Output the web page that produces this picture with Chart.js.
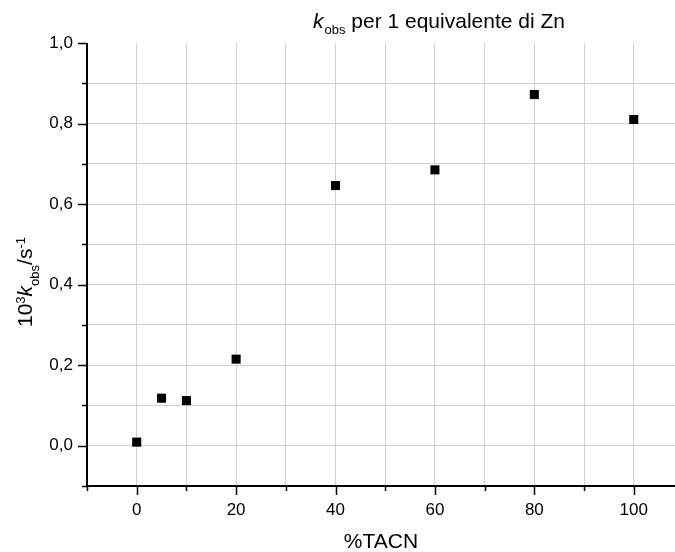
<!DOCTYPE html>
<html>
<head>
<meta charset="utf-8">
<script src="https://cdn.jsdelivr.net/npm/chart.js@4"></script>
<style>
  html, body { margin: 0; padding: 0; background: #fff; }
  #wrap { width: 675px; height: 552px; position: relative; }
</style>
</head>
<body>
<div id="wrap"><canvas id="chart"></canvas></div>
<script>
// data
const tacn = [0, 5, 10, 20, 40, 60, 80, 100];
const kobs = [0.009, 0.118, 0.112, 0.215, 0.646, 0.685, 0.872, 0.81];

const xTicks = [-10, 0, 10, 20, 30, 40, 50, 60, 70, 80, 90, 100];
const xLabels = ['', '0', '', '20', '', '40', '', '60', '', '80', '', '100'];
const yTicks = [-0.1, 0, 0.1, 0.2, 0.3, 0.4, 0.5, 0.6, 0.7, 0.8, 0.9, 1.0];
const yLabels = ['', '0,0', '', '0,2', '', '0,4', '', '0,6', '', '0,8', '', '1,0'];

const FONT = 'Arial, "Liberation Sans", sans-serif';

// draws axis lines, major/minor tick marks and the rich-text titles
const decor = {
    id: 'decor',
    afterDatasetsDraw(chart) {
        const ctx = chart.ctx;
        const xs = chart.scales.x, ys = chart.scales.y;
        const left = xs.getPixelForValue(-10);
        const bottom = ys.getPixelForValue(-0.1);
        const top = ys.getPixelForValue(1.0);
        ctx.save();
        ctx.strokeStyle = '#000';
        ctx.lineWidth = 2;
        ctx.beginPath();
        ctx.moveTo(left, top);
        ctx.lineTo(left, bottom);
        ctx.moveTo(left, bottom);
        ctx.lineTo(chart.width, bottom);
        ctx.stroke();

        ctx.lineWidth = 1.5;
        ctx.beginPath();
        xTicks.forEach((v, i) => {
            const px = Math.round(xs.getPixelForValue(v)) + 0.5;
            const len = xLabels[i] ? 9 : 5;
            ctx.moveTo(px, bottom);
            ctx.lineTo(px, bottom + len);
        });
        yTicks.forEach((v, i) => {
            const py = Math.round(ys.getPixelForValue(v)) + 0.5;
            const len = yLabels[i] ? 9 : 5;
            ctx.moveTo(left, py);
            ctx.lineTo(left - len, py);
        });
        ctx.stroke();

        // chart title
        ctx.fillStyle = '#000';
        ctx.textBaseline = 'alphabetic';
        ctx.textAlign = 'left';
        let x = 313;
        ctx.font = 'italic 21px ' + FONT;
        ctx.fillText('k', x, 27.5);
        x += ctx.measureText('k').width;
        ctx.font = '13px ' + FONT;
        ctx.fillText('obs', x + 1, 34);
        x += ctx.measureText('obs').width + 1;
        ctx.font = '21px ' + FONT;
        ctx.fillText(' per 1 equivalente di Zn', x, 27.5);

        // y axis title, rotated
        ctx.translate(32, 327);
        ctx.rotate(-Math.PI / 2);
        let t = 0;
        const parts = [
            ['10', '21px', 0],
            ['3', '13px', -7],
            ['k', 'italic 21px', 0],
            ['obs', '13px', 7],
            ['/s', '21px', 0],
            ['-1', '13px', -7]
        ];
        parts.forEach(p => {
            ctx.font = p[1] + ' ' + FONT;
            ctx.fillText(p[0], t, p[2]);
            t += ctx.measureText(p[0]).width;
        });
        ctx.restore();
    }
};

new Chart(document.getElementById('chart').getContext('2d'), {
    type: 'scatter',
    data: {
        datasets: [{
            data: tacn.map((v, i) => ({ x: v, y: kobs[i] })),
            pointStyle: 'rect',
            radius: 6.4,
            hoverRadius: 6.4,
            backgroundColor: '#000',
            borderColor: '#000',
            borderWidth: 0
        }]
    },
    options: {
        responsive: true,
        maintainAspectRatio: false,
        animation: false,
        events: [],
        layout: { autoPadding: false, padding: { top: 43, right: 0, left: 0, bottom: 0 } },
        plugins: { legend: { display: false }, tooltip: { enabled: false } },
        scales: {
            x: {
                type: 'linear',
                min: -10,
                max: 108.3,
                afterBuildTicks: s => { s.ticks = xTicks.map(v => ({ value: v })); },
                afterFit: s => { s.height = 66; s.paddingLeft = 0; s.paddingRight = 0; },
                border: { display: false },
                grid: {
                    drawTicks: false,
                    color: c => (c.tick && c.tick.value === -10) ? 'rgba(0,0,0,0)' : '#d2d2d2',
                    lineWidth: 1
                },
                ticks: {
                    padding: 14,
                    color: '#000',
                    maxRotation: 0,
                    autoSkip: false,
                    font: { family: FONT, size: 17 },
                    callback: (v, i) => xLabels[i]
                },
                title: {
                    display: true,
                    text: '%TACN',
                    color: '#000',
                    font: { family: FONT, size: 21 },
                    padding: { top: 0, bottom: -3 }
                }
            },
            y: {
                type: 'linear',
                min: -0.1,
                max: 1.0,
                afterBuildTicks: s => { s.ticks = yTicks.map(v => ({ value: v })); },
                afterFit: s => { s.width = 87; s.paddingTop = 0; s.paddingBottom = 0; },
                border: { display: false },
                grid: {
                    drawTicks: false,
                    color: c => (c.tick && (c.index === 0 || c.index === yTicks.length - 1)) ? 'rgba(0,0,0,0)' : '#d2d2d2',
                    lineWidth: 1
                },
                ticks: {
                    padding: 14,
                    color: '#000',
                    autoSkip: false,
                    font: { family: FONT, size: 17 },
                    callback: (v, i) => yLabels[i]
                }
            }
        }
    },
    plugins: [decor]
});
</script>
</body>
</html>
